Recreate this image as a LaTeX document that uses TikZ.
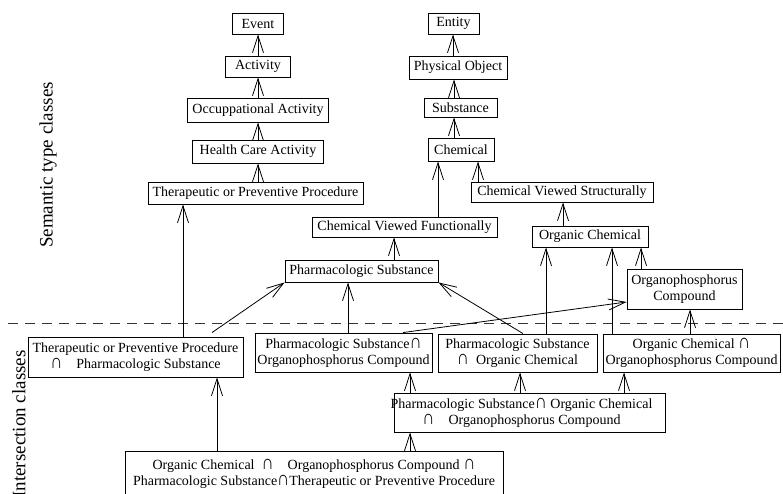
\documentclass[tikz,border=0pt]{standalone}
\usepackage{fontspec}
\usepackage{graphicx}
\setmainfont{Liberation Serif}
\usetikzlibrary{arrows.meta}
\newcommand\isect{\scalebox{1.2}[1.45]{∩}}
\tikzset{
  box/.style={draw, line width=0.9pt, inner sep=0pt, align=center,
    font=\fontsize{14}{16}\selectfont},
  arr/.style={line width=0.8pt, -{Straight Barb[length=17pt,width=11pt,line width=0.8pt]}},
  sep/.style={line width=1pt, draw=black!80, dash pattern=on 10pt off 7pt},
  side/.style={rotate=90, font=\fontsize{19}{22}\selectfont}
}
\begin{document}
\begin{tikzpicture}[x=1pt,y=-1pt]
\useasboundingbox (0,0) rectangle (783,494);
% semantic type classes
\node[box, minimum width=51pt, minimum height=21pt] (event) at (258,23.5) {Event};
\node[box, minimum width=65pt, minimum height=21pt] (activity) at (258,66.5) {Activity};
\node[box, minimum width=141pt, minimum height=24pt] (occact) at (258,110) {Occuppational Activity};
\node[box, minimum width=131pt, minimum height=23pt] (hca) at (258,151.5) {Health Care Activity};
\node[box, minimum width=215pt, minimum height=22pt] (tpp) at (255.5,193) {Therapeutic or Preventive Procedure};
\node[box, minimum width=51pt, minimum height=21pt] (entity) at (453.5,23.5) {Entity};
\node[box, minimum width=98pt, minimum height=23pt] (physobj) at (458,67.5) {Physical Object};
\node[box, minimum width=73pt, minimum height=19pt] (substance) at (460.5,107.5) {Substance};
\node[box, minimum width=66pt, minimum height=23pt] (chemical) at (461,149.5) {Chemical};
\node[box, minimum width=182pt, minimum height=20pt] (cvs) at (562,192) {Chemical Viewed Structurally};
\node[box, minimum width=185pt, minimum height=20pt] (cvf) at (404.5,227) {Chemical Viewed Functionally};
\node[box, minimum width=153pt, minimum height=22pt] (ps) at (361.5,271) {Pharmacologic Substance};
\node[box, minimum width=116pt, minimum height=21pt] (oc) at (590,236.5) {Organic Chemical};
\node[box, minimum width=115pt, minimum height=40pt] (opc) at (684.5,289) {Organophosphorus\\Compound};
% intersection classes
\node[box, minimum width=215pt, minimum height=40pt] (tppps) at (135.5,357) {Therapeutic or Preventive Procedure\\\isect\quad Pharmacologic Substance};
\node[box, minimum width=177pt, minimum height=39pt] (psopc) at (343.5,352.5) {Pharmacologic Substance\isect\\Organophosphorus Compound};
\node[box, minimum width=159pt, minimum height=38pt] (psoc) at (517.5,353) {Pharmacologic Substance\\\isect\ \ Organic Chemical};
\node[box, minimum width=177pt, minimum height=38pt] (ocopc) at (691.5,353) {Organic Chemical \isect\\Organophosphorus Compound};
\node[box, minimum width=271pt, minimum height=39pt] (psocopc) at (529.5,412.5) {\hspace*{-16pt}Pharmacologic Substance\isect\ Organic Chemical\\\hspace*{-16pt}\isect\quad Organophosphorus Compound};
\node[box, minimum width=378pt, minimum height=45pt] (all) at (314,473.5) {Organic Chemical \ \isect\quad Organophosphorus Compound \isect\\Pharmacologic Substance\isect Therapeutic or Preventive Procedure};
% side labels
\node[side] (lsem) at (48,165) {Semantic type classes};
\node[side] (lint) at (19,424) {Intersection classes};
% separator
\coordinate (sepl) at (8,323);
\coordinate (sepr) at (783,323);
\draw[sep] (sepl) -- (sepr);
% connectors
\draw[arr] (activity.north) -- (event.south);
\draw[arr] (occact.north) -- (activity.south);
\draw[arr] (hca.north) -- (occact.south);
\draw[arr] ([xshift=2.5pt]tpp.north) -- (hca.south);
\draw[arr] ([xshift=-5pt]physobj.north) -- ([xshift=-0.5pt]entity.south);
\draw[arr] ([xshift=-6.5pt]substance.north) -- ([xshift=-4pt]physobj.south);
\draw[arr] ([xshift=-7pt]chemical.north) -- ([xshift=-6.5pt]substance.south);
\draw[arr] ([xshift=33.5pt]cvf.north) -- ([xshift=-23pt]chemical.south);
\draw[arr] ([xshift=-84pt]cvs.north) -- ([xshift=17pt]chemical.south);
\draw[arr] ([xshift=32.5pt]ps.north) -- ([xshift=-10.5pt]cvf.south);
\draw[arr] ([xshift=-27pt]oc.north) -- ([xshift=1pt]cvs.south);
\draw[arr] ([xshift=-43.5pt]opc.north) -- ([xshift=51pt]oc.south);
\draw[arr] ([xshift=47.5pt]tppps.north) -- ([xshift=-72.5pt]tpp.south);
\draw[arr] ([xshift=76.5pt,yshift=4pt]tppps.north) -- (ps.south west);
\draw[arr] ([xshift=4.5pt]psopc.north) -- ([xshift=-13.5pt]ps.south);
\draw[arr] ([xshift=59.5pt]psopc.north) -- ([yshift=-13pt]opc.west);
\draw[arr] ([xshift=5.5pt]psoc.north) -- (ps.south east);
\draw[arr] ([xshift=28.5pt]psoc.north) -- ([xshift=-44pt]oc.south);
\draw[arr] ([xshift=-79.5pt]ocopc.north) -- ([xshift=22pt]oc.south);
\draw[arr] ([xshift=-1.5pt]ocopc.north) -- ([xshift=5.5pt]opc.south);
\draw[arr] ([xshift=-119.5pt]psocopc.north) -- ([xshift=66.5pt]psopc.south);
\draw[arr] ([xshift=-9.5pt]psocopc.north) -- ([xshift=2.5pt]psoc.south);
\draw[arr] ([xshift=94.5pt]psocopc.north) -- ([xshift=-67.5pt]ocopc.south);
\draw[arr] ([xshift=-97pt]all.north) -- ([xshift=81.5pt]tppps.south);
\draw[arr] ([xshift=96pt]all.north) -- ([xshift=-119.5pt]psocopc.south);
\end{tikzpicture}
\end{document}
